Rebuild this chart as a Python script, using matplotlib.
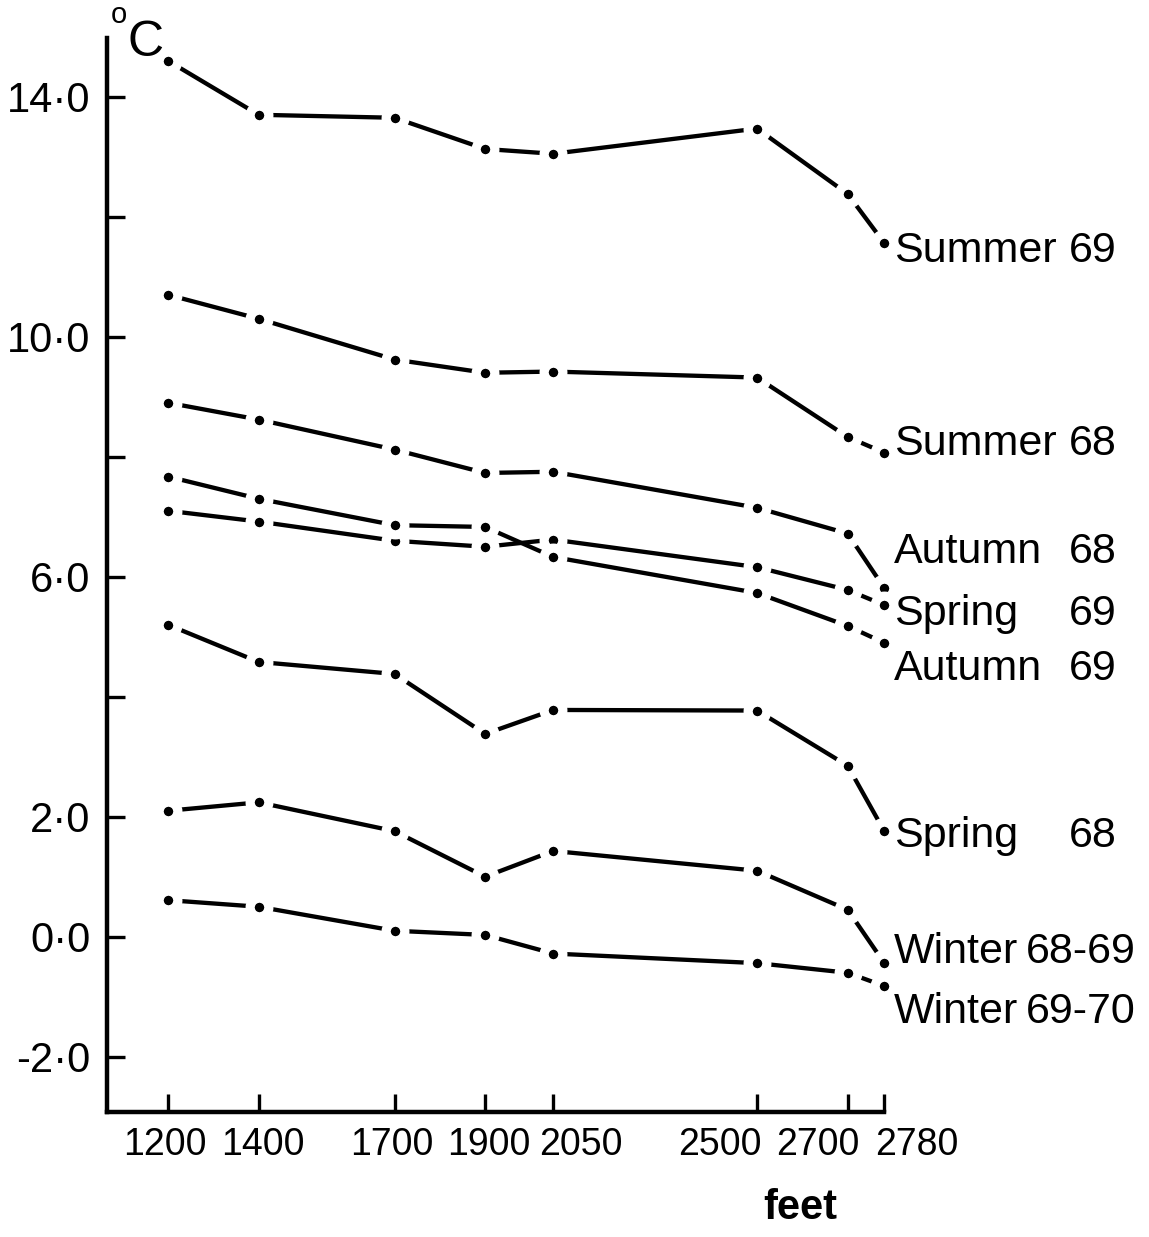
import matplotlib
matplotlib.use('Agg')
import matplotlib.pyplot as plt
from matplotlib import transforms

plt.rcParams['font.family'] = ['Liberation Sans', 'DejaVu Sans']

# station altitudes (feet)
altitude = [1200, 1400, 1700, 1900, 2050, 2500, 2700, 2780]

# seasonal mean temperatures (deg C) at each station
summer_69 = [14.6, 13.7, 13.65, 13.13, 13.05, 13.47, 12.38, 11.57]
summer_68 = [10.7, 10.3, 9.62, 9.4, 9.42, 9.32, 8.33, 8.07]
autumn_68 = [8.9, 8.62, 8.12, 7.73, 7.75, 7.15, 6.72, 5.82]
spring_69 = [7.1, 6.92, 6.6, 6.5, 6.62, 6.16, 5.78, 5.53]
autumn_69 = [7.67, 7.3, 6.86, 6.83, 6.33, 5.73, 5.18, 4.9]
spring_68 = [5.2, 4.58, 4.38, 3.38, 3.78, 3.77, 2.85, 1.77]
winter_68_69 = [2.1, 2.24, 1.76, 1.0, 1.43, 1.1, 0.45, -0.43]
winter_69_70 = [0.61, 0.5, 0.1, 0.03, -0.28, -0.44, -0.6, -0.82]

season = ['Summer', 'Summer', 'Autumn', 'Spring', 'Autumn', 'Spring', 'Winter', 'Winter']
year = ['69', '68', '68', '69', '69', '68', '68-69', '69-70']

y_ticks = [-2, 0, 2, 4, 6, 8, 10, 12, 14]
y_ticklabels = ['-2\u00b70', '0\u00b70', '2\u00b70', '', '6\u00b70', '', '10\u00b70', '', '14\u00b70']
x_ticklabels = ['1200', '1400', '1700', '1900', '2050', '2500', '2700', '2780']

series = [summer_69, summer_68, autumn_68, spring_69, autumn_69,
          spring_68, winter_68_69, winter_69_70]

# where the curve names sit (baseline in deg C, right edge of year in axes fraction)
label_base = [11.25, 8.03, 6.23, 5.2, 4.28, 1.5, -0.43, -1.43]
year_right = [1.300, 1.300, 1.300, 1.300, 1.300, 1.300, 1.324, 1.324]
# nudges of the altitude labels, pixels
x_label_shift = [-3, 4, -3, 4, 28, -37, -30, 33]

fig = plt.figure(figsize=(11.49, 12.37), dpi=100)
ax = fig.add_axes([0.0931, 0.1011, 0.6762, 0.8682])

for temps in series:
    ax.plot(altitude, temps, '-', color='black', lw=3.1,
            solid_capstyle='round', zorder=2, clip_on=False)
for temps in series:
    ax.plot(altitude, temps, 'o', ms=13.5, mfc='black', mec='white',
            mew=6.6, zorder=3, clip_on=False)

ax.set_xlim(1065.4, 2780)
ax.set_ylim(-2.92, 14.98)

for side in ['top', 'right']:
    ax.spines[side].set_visible(False)
for side in ['left', 'bottom']:
    ax.spines[side].set_linewidth(3.2)

ax.set_yticks(y_ticks)
ax.set_yticklabels(y_ticklabels)
ax.set_xticks(altitude)
ax.set_xticklabels(x_ticklabels)
ax.tick_params(axis='y', direction='in', length=13, width=2.4, labelsize=30, pad=12)
ax.tick_params(axis='x', direction='in', length=13, width=2.4, labelsize=27, pad=11)

for lab, dx in zip(ax.get_xticklabels(), x_label_shift):
    lab.set_transform(lab.get_transform() +
                      transforms.ScaledTranslation(dx / 100, 0, fig.dpi_scale_trans))

# curve names to the right of the last station
trans = transforms.blended_transform_factory(ax.transAxes, ax.transData)
for name, yr, yb, xr in zip(season, year, label_base, year_right):
    ax.text(1.0129, yb, name, transform=trans, ha='left', va='baseline',
            fontsize=31, clip_on=False)
    ax.text(xr, yb, yr, transform=trans, ha='right', va='baseline',
            fontsize=31, clip_on=False)

fig.text(800 / 1149, 1 - 1208 / 1237, 'feet', ha='center', va='center',
         fontsize=30, fontweight='bold')
fig.text(119 / 1149, 1 - 15 / 1237, 'o', ha='center', va='center', fontsize=21)
fig.text(146 / 1149, 1 - 43 / 1237, 'C', ha='center', va='center', fontsize=36)

fig.savefig('out.png', dpi=100)
